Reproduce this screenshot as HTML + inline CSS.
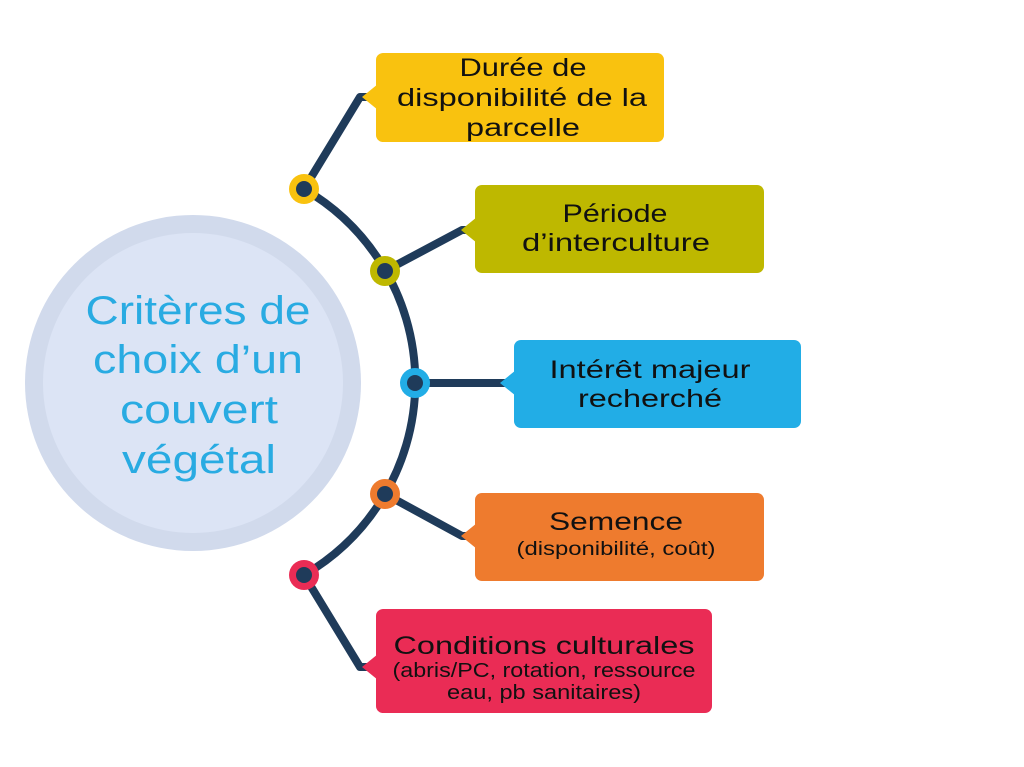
<!DOCTYPE html>
<html><head><meta charset="utf-8"><style>
html,body{margin:0;padding:0;background:#fff;}
svg{display:block;}
text{font-family:"Liberation Sans",sans-serif;}
</style></head><body>
<svg width="1024" height="767" viewBox="0 0 1024 767">
<circle cx="193" cy="383" r="168" fill="#D1DAEC"/>
<circle cx="193" cy="383" r="150" fill="#DCE4F5"/>
<g fill="#29ABE2" font-size="40" text-anchor="middle" lengthAdjust="spacingAndGlyphs">
<text x="198" y="324" textLength="225" lengthAdjust="spacingAndGlyphs">Critères de</text>
<text x="198" y="373" textLength="210" lengthAdjust="spacingAndGlyphs">choix d’un</text>
<text x="199" y="423" textLength="158" lengthAdjust="spacingAndGlyphs">couvert</text>
<text x="199" y="473" textLength="154" lengthAdjust="spacingAndGlyphs">végétal</text>
</g>
<g stroke="#1F3B5A" stroke-width="8" fill="none" stroke-linejoin="round">
<path d="M304 189 A223 223 0 0 1 304 575"/>
<polyline points="304,189 360,97 376,97"/>
<polyline points="385,271 462,230 476,230"/>
<polyline points="415,383 514,383"/>
<polyline points="385,494 462,536 476,536"/>
<polyline points="304,575 360,667 377,667"/>
</g>
<rect x="376" y="53" width="288" height="89" rx="7" fill="#F9C20F"/>
<polygon points="362,97 378,84 378,110" fill="#F9C20F"/>
<rect x="475" y="185" width="289" height="88" rx="7" fill="#BEB800"/>
<polygon points="461,230 477,217 477,243" fill="#BEB800"/>
<rect x="514" y="340" width="287" height="88" rx="7" fill="#22ADE6"/>
<polygon points="500,383 516,370 516,396" fill="#22ADE6"/>
<rect x="475" y="493" width="289" height="88" rx="7" fill="#EE7B2E"/>
<polygon points="461,536 477,523 477,549" fill="#EE7B2E"/>
<rect x="376" y="609" width="336" height="104" rx="7" fill="#EA2C55"/>
<polygon points="362,667 378,654 378,680" fill="#EA2C55"/>
<g fill="#1F3B5A">
<circle cx="304" cy="189" r="15" fill="#F9C20F"/><circle cx="304" cy="189" r="8"/>
<circle cx="385" cy="271" r="15" fill="#BEB800"/><circle cx="385" cy="271" r="8"/>
<circle cx="415" cy="383" r="15" fill="#22ADE6"/><circle cx="415" cy="383" r="8"/>
<circle cx="385" cy="494" r="15" fill="#EE7B2E"/><circle cx="385" cy="494" r="8"/>
<circle cx="304" cy="575" r="15" fill="#EA2C55"/><circle cx="304" cy="575" r="8"/>
</g>
<g fill="#111" font-size="25" text-anchor="middle">
<text x="523" y="76" textLength="127" lengthAdjust="spacingAndGlyphs">Durée de</text>
<text x="522" y="106" textLength="250" lengthAdjust="spacingAndGlyphs">disponibilité de la</text>
<text x="523" y="136" textLength="114" lengthAdjust="spacingAndGlyphs">parcelle</text>
<text x="615" y="222" textLength="105" lengthAdjust="spacingAndGlyphs">Période</text>
<text x="616" y="251" textLength="188" lengthAdjust="spacingAndGlyphs">d’interculture</text>
<text x="650" y="378" textLength="201" lengthAdjust="spacingAndGlyphs">Intérêt majeur</text>
<text x="650" y="407" textLength="144" lengthAdjust="spacingAndGlyphs">recherché</text>
<text x="616" y="530" textLength="134" lengthAdjust="spacingAndGlyphs">Semence</text>
<text x="616" y="555" font-size="19" textLength="199" lengthAdjust="spacingAndGlyphs">(disponibilité, coût)</text>
<text x="544" y="654" textLength="301" lengthAdjust="spacingAndGlyphs">Conditions culturales</text>
<text x="544" y="677" font-size="20" textLength="303" lengthAdjust="spacingAndGlyphs">(abris/PC, rotation, ressource</text>
<text x="544" y="699" font-size="20" textLength="194" lengthAdjust="spacingAndGlyphs">eau, pb sanitaires)</text>
</g>
</svg>
</body></html>
